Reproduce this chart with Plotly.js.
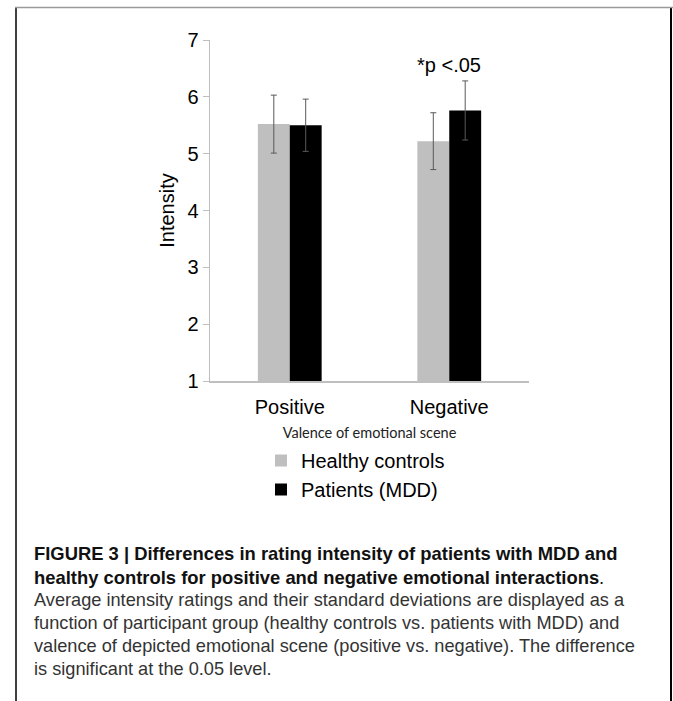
<!DOCTYPE html>
<html>
<head>
<meta charset="utf-8">
<script src="https://cdn.plot.ly/plotly-3.0.1.min.js"></script>
<style>
  html, body { margin: 0; padding: 0; background: #fff; }
  #chart { width: 673px; height: 701px; }
</style>
</head>
<body>
<div id="chart"></div>
<script>
// ---- data ----
const categories = ["Positive", "Negative"];
const healthyMeans = [5.52, 5.22];
const healthySD = [0.51, 0.50];
const patientMeans = [5.50, 5.76];
const patientSD = [0.46, 0.52];
const seriesNames = ["Healthy controls", "Patients (MDD)"];
const yTicks = [1, 2, 3, 4, 5, 6, 7];
const xTitle = "Valence of emotional scene";
const yTitle = "Intensity";
const sigLabel = "*p <.05";
const captionBold = [
  "FIGURE 3 | Differences in rating intensity of patients with MDD and",
  "healthy controls for positive and negative emotional interactions"
];
const captionText = [
  "Average intensity ratings and their standard deviations are displayed as a",
  "function of participant group (healthy controls vs. patients with MDD) and",
  "valence of depicted emotional scene (positive vs. negative). The difference",
  "is significant at the 0.05 level."
];

// ---- layout helpers (pixel -> paper) ----
const W = 673, H = 701;
const M = { l: 210, r: 144, t: 40, b: 320 };
const PW = W - M.l - M.r, PH = H - M.t - M.b;
const px = x => (x - M.l) / PW;
const py = y => (H - M.b - y) / PH;

const armFont = "Liberation Sans, Arial, sans-serif";
const capFont = "Liberation Sans, Arial, sans-serif";

const traces = [
  {
    type: "bar", name: seriesNames[0], x: categories, y: healthyMeans,
    marker: { color: "#bfbfbf" },
    error_y: { type: "data", array: healthySD, visible: true, color: "#595959", thickness: 1, width: 3 }
  },
  {
    type: "bar", name: seriesNames[1], x: categories, y: patientMeans,
    marker: { color: "#000000" },
    error_y: { type: "data", array: patientSD, visible: true, color: "#595959", thickness: 1, width: 3 }
  }
];

const annotations = [
  { xref: "x", yref: "y", x: categories[1], y: 6.56, text: sigLabel, showarrow: false,
    font: { family: armFont, size: 20, color: "#000" }, xanchor: "center", yanchor: "middle" }
];
const capY = [553, 577, 600, 623, 646, 669];
captionBold.forEach((t, i) => {
  annotations.push({
    xref: "paper", yref: "paper", x: px(32), y: py(capY[i]), xanchor: "left", yanchor: "middle",
    showarrow: false, align: "left",
    text: "<b>" + t + "</b>" + (i === captionBold.length - 1 ? "." : ""),
    font: { family: capFont, size: 18.4, color: "#111" }
  });
});
captionText.forEach((t, i) => {
  annotations.push({
    xref: "paper", yref: "paper", x: px(32), y: py(capY[i + 2]), xanchor: "left", yanchor: "middle",
    showarrow: false, align: "left", text: t,
    font: { family: capFont, size: 18.2, color: "#333" }
  });
});

const shapes = [
  { type: "line", xref: "paper", yref: "paper", x0: px(16), x1: px(16), y0: py(8), y1: py(H + 5),
    line: { color: "#000", width: 1.5 } },
  { type: "line", xref: "paper", yref: "paper", x0: px(671), x1: px(671), y0: py(8), y1: py(H + 5),
    line: { color: "#000", width: 2 } },
  { type: "line", xref: "paper", yref: "paper", x0: px(15), x1: px(673), y0: py(7.5), y1: py(7.5),
    line: { color: "#9a9a9a", width: 1.5 } }
];

const layout = {
  width: W, height: H,
  margin: M,
  paper_bgcolor: "#fff", plot_bgcolor: "#fff",
  barmode: "group", bargap: 0.6, bargroupgap: 0,
  showlegend: true,
  legend: {
    x: px(261), y: py(441), xanchor: "left", yanchor: "top",
    font: { family: armFont, size: 20, color: "#000" },
    bgcolor: "rgba(0,0,0,0)", tracegroupgap: 0, itemwidth: 30
  },
  xaxis: {
    type: "category",
    showline: true, linecolor: "#bfbfbf", linewidth: 1.5,
    ticks: "", showgrid: false, zeroline: false,
    ticklabelstandoff: 7,
    tickfont: { family: armFont, size: 20, color: "#000" },
    title: { text: xTitle, font: { family: "Lato, Open Sans, sans-serif", size: 14.5, color: "#222" }, standoff: 11 }
  },
  yaxis: {
    range: [1, 7], tickvals: yTicks, showline: true, linecolor: "#bfbfbf", linewidth: 1.5,
    ticks: "outside", ticklen: 6, tickcolor: "#bfbfbf", tickwidth: 1,
    showgrid: false, zeroline: false,
    tickfont: { family: armFont, size: 20, color: "#000" },
    title: { text: yTitle, font: { family: armFont, size: 20, color: "#000" }, standoff: 7 }
  },
  annotations: annotations,
  shapes: shapes
};

Plotly.newPlot("chart", traces, layout, { displayModeBar: false, staticPlot: true });
</script>
</body>
</html>
